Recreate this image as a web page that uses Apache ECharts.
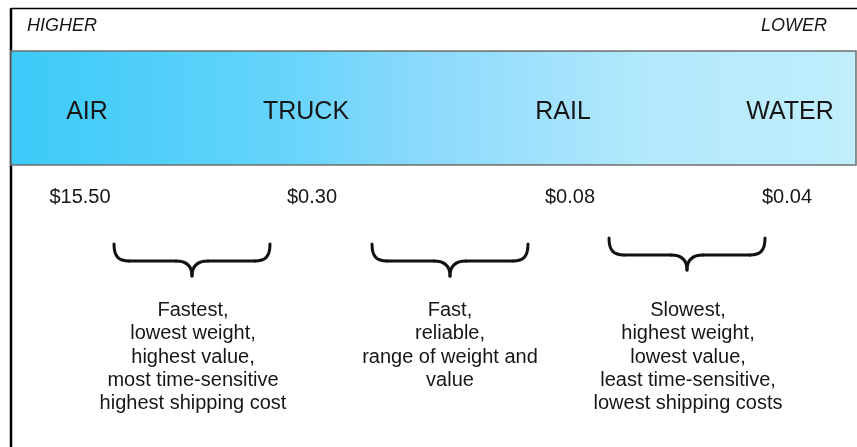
<!DOCTYPE html>
<html>
<head>
<meta charset="utf-8">
<script src="https://cdn.jsdelivr.net/npm/echarts@6/dist/echarts.min.js"></script>
<style>
  html, body { margin: 0; padding: 0; background: #fff; }
  #main { width: 857px; height: 447px; }
</style>
</head>
<body>
<div id="main"></div>
<script>
// data
var scaleEnds = ['HIGHER', 'LOWER'];
var modes = ['AIR', 'TRUCK', 'RAIL', 'WATER'];
var costs = ['$15.50', '$0.30', '$0.08', '$0.04'];
var descriptions = [
  ['Fastest,', 'lowest weight,', 'highest value,', 'most time-sensitive', 'highest shipping cost'],
  ['Fast,', 'reliable,', 'range of weight and', 'value'],
  ['Slowest,', 'highest weight,', 'lowest value,', 'least time-sensitive,', 'lowest shipping costs']
];

// layout (pixel positions of the diagram pieces)
var modeX = [87, 306, 563, 790];
var costX = [80, 312, 570, 787];
var braceX = [114, 372, 609];
var braceTop = [244, 244, 238];
var braceW = 156;
var descX = [193, 450, 688];

var FONT = '"Liberation Sans", Arial, sans-serif';
var INK = '#161616';

// curly brace opening upward, built from curves and lines
function brace(x, y, w) {
  var c = w / 2;
  var st = { stroke: '#111', lineWidth: 3, lineCap: 'round', fill: null };
  function curve(a) {
    return { type: 'bezierCurve', shape: { x1: a[0], y1: a[1], cpx1: a[2], cpy1: a[3], cpx2: a[4], cpy2: a[5], x2: a[6], y2: a[7] }, style: st };
  }
  function seg(x1, y1, x2, y2) {
    return { type: 'line', shape: { x1: x1, y1: y1, x2: x2, y2: y2 }, style: st };
  }
  return {
    type: 'group', x: x, y: y,
    children: [
      curve([0, 0, 0, 13, 5, 17, 15, 17]),
      seg(15, 17, c - 16, 17),
      curve([c - 16, 17, c - 6, 17, c, 21, c, 32]),
      curve([c, 32, c, 21, c + 6, 17, c + 16, 17]),
      seg(c + 16, 17, w - 15, 17),
      curve([w - 15, 17, w - 5, 17, w, 13, w, 0])
    ]
  };
}

var chart = echarts.init(document.getElementById('main'), null, { renderer: 'canvas' });

var elements = [];

// frame
elements.push({
  type: 'line', shape: { x1: 11, y1: 8.5, x2: 857, y2: 8.5 },
  style: { stroke: '#000', lineWidth: 1.5 }
});
elements.push({
  type: 'line', shape: { x1: 11, y1: 8, x2: 11, y2: 447 },
  style: { stroke: '#000', lineWidth: 2.5 }
});

// gradient band
elements.push({
  type: 'rect',
  shape: { x: 11, y: 51, width: 845, height: 114 },
  style: {
    fill: new echarts.graphic.LinearGradient(0, 0, 1, 0, [
      { offset: 0, color: '#3ccaf8' },
      { offset: 0.3, color: '#62d3fb' },
      { offset: 0.5, color: '#8ddafc' },
      { offset: 0.75, color: '#b2e9fc' },
      { offset: 1, color: '#c0eefc' }
    ]),
    stroke: '#6e6e6e',
    lineWidth: 1.5
  }
});

// HIGHER / LOWER
elements.push({
  type: 'text', x: 27, y: 26,
  style: { text: scaleEnds[0], font: 'italic 18px ' + FONT, fill: INK, align: 'left', verticalAlign: 'middle' }
});
elements.push({
  type: 'text', x: 827, y: 26,
  style: { text: scaleEnds[1], font: 'italic 18px ' + FONT, fill: INK, align: 'right', verticalAlign: 'middle' }
});

modes.forEach(function (m, i) {
  elements.push({
    type: 'text', x: modeX[i], y: 112,
    style: { text: m, font: '25px ' + FONT, fill: INK, align: 'center', verticalAlign: 'middle' }
  });
  elements.push({
    type: 'text', x: costX[i], y: 197,
    style: { text: costs[i], font: '20px ' + FONT, fill: INK, align: 'center', verticalAlign: 'middle' }
  });
});

descriptions.forEach(function (lines, i) {
  elements.push(brace(braceX[i], braceTop[i], braceW));
  elements.push({
    type: 'text', x: descX[i], y: 299,
    style: {
      text: lines.join('\n'), font: '20px ' + FONT, fill: INK,
      align: 'center', verticalAlign: 'top', lineHeight: 23.3
    }
  });
});

var option = {
  backgroundColor: '#fff',
  animation: false,
  graphic: { elements: elements }
};

chart.setOption(option);
</script>
</body>
</html>
